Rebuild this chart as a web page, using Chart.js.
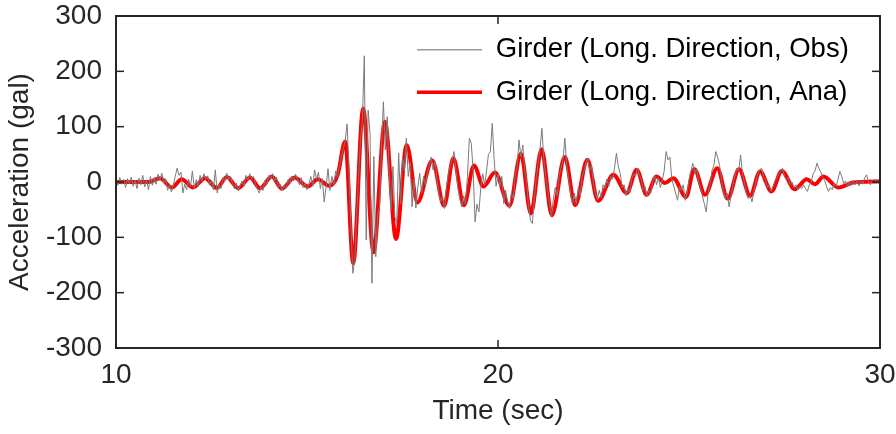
<!DOCTYPE html>
<html><head><meta charset="utf-8">
<script src="https://cdn.jsdelivr.net/npm/chart.js@4/dist/chart.umd.min.js"></script>
<style>html,body{margin:0;padding:0;background:#fff;}#wrap{width:896px;height:434px;}</style>
</head><body><div id="wrap"><canvas id="c" width="896" height="434"></canvas></div>
<script>
const seriesNames = ['Girder (Long. Direction, Obs)', 'Girder (Long. Direction, Ana)'];
const xTicks = [10, 20, 30];
const yTicks = [-300, -200, -100, 0, 100, 200, 300];
const xLabel = 'Time (sec)';
const yLabel = 'Acceleration (gal)';

// Observed record, sampled every 0.05 s from 10 s
const obsStart = 10, obsStep = 0.05;
const obsValues = [
  2,-6,8,-4,5,-10,6,-3,9,-8,3,-12,7,-5,12,-9,4,-14,10,-6,
  8,-4,14,3,16,-2,6,-15,-5,-18,-6,10,25,12,18,-20,-4,-14,5,-8,
  20,-12,4,-9,12,2,15,5,11,-6,3,-14,22,-20,-5,-12,8,2,16,4,
  10,-3,-12,-2,-16,-6,2,-8,12,4,15,6,10,-4,-13,-20,-8,-15,3,-4,
  12,5,15,2,9,-10,-4,-16,-6,-12,4,-3,10,2,14,6,-5,8,-10,-3,
  -14,-4,10,-8,22,5,18,-12,6,-36,-8,24,-15,10,-6,20,8,30,45,60,
  75,105,20,-80,-165,-140,-60,10,76,110,228,-105,130,88,-183,46,-135,-60,-45,60,
  145,58,118,16,-50,28,-63,-75,52,-40,46,20,79,10,35,-45,5,-47,-10,16,
  -20,10,-5,16,30,45,22,38,5,-20,-35,-26,-48,-10,15,30,40,55,20,-10,
  -30,-45,-25,-40,10,79,70,20,-72,-40,-54,-10,15,-5,20,50,55,106,40,-8,
  15,-8,10,-39,-15,-35,-48,-20,-30,10,28,76,45,67,20,0,-45,-69,-75,-30,
  5,34,60,97,40,10,-15,-40,-63,-30,-10,-25,10,25,40,79,30,5,-20,-39,
  -20,-40,-10,-25,10,20,35,43,20,30,-5,-20,-33,-15,-28,-5,-12,5,-8,10,
  5,25,52,28,15,-10,-5,-25,-12,-20,5,15,10,25,12,5,-15,-8,-27,-15,
  -20,0,12,-5,8,-10,3,20,55,40,45,5,-8,-20,-33,-8,-15,-5,-33,-20,
  5,20,34,15,25,0,-10,-25,-39,-54,-20,-5,20,30,55,45,30,5,-15,-30,
  -20,-45,-25,-5,10,25,20,49,15,0,-20,-30,-25,-36,-15,0,15,22,25,10,
  5,-10,-5,-17,-8,2,7,15,19,25,10,4,8,-5,0,-10,-5,-14,-8,-12,
  -5,-12,-17,-5,0,15,20,34,25,18,8,3,-8,-17,-10,-14,-3,-8,5,19,
  10,-3,2,-8,0,-6,3,-5,1,-7,2,-4,8,13,0,-5,3,-3,5,-2,
  2
];

// Analytical response: turning points (time, value)
const anaTimes = [10,10.86,11.15,11.46,11.72,12.02,12.33,12.64,12.90,13.20,13.51,13.77,14.08,14.34,14.67,
  15.02,15.28,15.58,15.80,16.00,16.21,16.47,16.74,17.04,17.33,17.61,17.89,18.28,18.59,18.83,
  19.11,19.37,19.62,19.92,20.30,20.60,20.86,21.14,21.41,21.75,22.02,22.34,22.62,23.02,23.37,
  23.63,23.89,24.15,24.37,24.59,24.92,25.14,25.42,25.74,26.01,26.31,26.60,26.86,27.16,27.43,
  27.77,28.08,28.30,28.52,28.91,29.30,30.00];
const anaValues = [0,0,7,-10,5,-10,7,-11,9,-11,8,-11,10,-12,8,
  -8,5,-7,12,73,-147,133,-127,109,-103,67,-37,39,-43,43,
  -42,30,-8,17,-43,51,-57,59,-60,45,-42,40,-34,13,-20,
  22,-23,10,-2,7,-27,23,-23,25,-30,23,-25,19,-17,20,
  -13,5,-4,10,-10,-1,1];

const FONT = '"Liberation Sans", Arial, Helvetica, sans-serif';
const AX = '#262626';

const obsData = obsValues.map((v, i) => ({x: obsStart + i * obsStep, y: v}));
const anaData = anaTimes.map((t, i) => ({x: t, y: anaValues[i]}));

const framePlugin = {
  id: 'frame',
  afterDatasetsDraw(chart) {
    const {ctx, chartArea: a, scales: {x, y}} = chart;
    ctx.save();
    ctx.strokeStyle = AX;
    ctx.lineWidth = 2;
    ctx.strokeRect(a.left, a.top, a.right - a.left, a.bottom - a.top);
    ctx.lineWidth = 1.5;
    const tl = 8;
    const seg = (x1, y1, x2, y2) => { ctx.beginPath(); ctx.moveTo(x1, y1); ctx.lineTo(x2, y2); ctx.stroke(); };
    yTicks.forEach(v => { const p = y.getPixelForValue(v); seg(a.left, p, a.left + tl, p); seg(a.right, p, a.right - tl, p); });
    xTicks.forEach(v => { const p = x.getPixelForValue(v); seg(p, a.bottom, p, a.bottom - tl); seg(p, a.top, p, a.top + tl); });
    ctx.restore();
  }
};

const legendPlace = {
  id: 'legendPlace',
  afterLayout(chart) {
    const L = chart.legend;
    if (!L) return;
    const w = L.width;
    L.left = 402; L.top = 21;
    L.right = L.left + w; L.bottom = L.top + 300;
  }
};

new Chart(document.getElementById('c'), {
  type: 'line',
  data: {
    datasets: [
      {label: seriesNames[0], data: obsData, borderColor: '#7a7a7a', borderWidth: 1, pointRadius: 0, tension: 0},
      {label: seriesNames[1], data: anaData, borderColor: '#ff0000', borderWidth: 4, pointRadius: 0, cubicInterpolationMode: 'monotone'}
    ]
  },
  options: {
    responsive: false,
    animation: false,
    devicePixelRatio: 1,
    layout: {padding: {left: 0, right: 16, top: 16, bottom: 0}},
    plugins: {
      tooltip: {enabled: false},
      legend: {
        position: 'chartArea',
        align: 'start',
        labels: {
          font: {family: FONT, size: 27.5},
          color: '#000',
          usePointStyle: true,
          pointStyle: 'line',
          pointStyleWidth: 65,
          padding: 15,
          generateLabels(chart) {
            const items = Chart.defaults.plugins.legend.labels.generateLabels(chart);
            items.forEach((it, i) => { it.lineWidth = i === 0 ? 1.6 : 3.5; it.strokeStyle = i === 0 ? '#9a9a9a' : '#ff0000'; });
            return items;
          }
        }
      }
    },
    scales: {
      x: {
        type: 'linear', min: 10, max: 30,
        afterBuildTicks(s) { s.ticks = xTicks.map(v => ({value: v})); },
        afterFit(s) { s.height = 86; s.paddingLeft = 0; s.paddingRight = 0; },
        grid: {display: false, drawTicks: false},
        border: {display: false},
        ticks: {font: {family: FONT, size: 28}, color: AX, padding: 10, autoSkip: false, maxRotation: 0, callback: v => String(v)},
        title: {display: true, text: xLabel, font: {family: FONT, size: 28}, color: AX, padding: {top: 0, bottom: 6}}
      },
      y: {
        type: 'linear', min: -300, max: 300,
        afterBuildTicks(s) { s.ticks = yTicks.map(v => ({value: v})); },
        afterFit(s) { s.width = 116; s.paddingTop = 0; s.paddingBottom = 0; },
        grid: {display: false, drawTicks: false},
        border: {display: false},
        ticks: {font: {family: FONT, size: 28}, color: AX, padding: 14, autoSkip: false, callback: v => String(v)},
        title: {display: true, text: yLabel, font: {family: FONT, size: 28}, color: AX, padding: {top: 3, bottom: 0}}
      }
    }
  },
  plugins: [framePlugin, legendPlace]
});
</script>
</body></html>
